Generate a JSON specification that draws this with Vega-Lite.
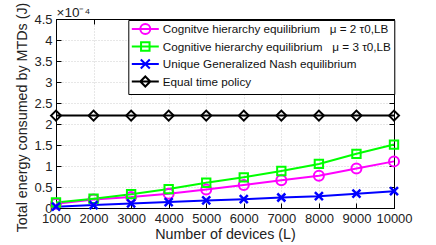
{
  "$schema": "https://vega.github.io/schema/vega-lite/v6.json",
  "width": 338,
  "height": 189,
  "autosize": "none",
  "padding": {"left": 56, "top": 19, "right": 42, "bottom": 37},
  "background": "white",
  "config": {
    "font": "Liberation Sans",
    "view": {"stroke": "black", "strokeWidth": 1},
    "axis": {"domainColor": "black", "tickColor": "black", "labelColor": "#222", "titleColor": "#222", "labelFontSize": 13, "titleFontSize": 14.3, "titleFontWeight": "normal", "gridColor": "#cfcfcf", "gridDash": [1, 2], "gridWidth": 1}
  },
  "data": {"values": [
    {"L": 1000, "series": "A", "e": 0.10}, {"L": 2000, "series": "A", "e": 0.20}, {"L": 3000, "series": "A", "e": 0.26}, {"L": 4000, "series": "A", "e": 0.34}, {"L": 5000, "series": "A", "e": 0.44}, {"L": 6000, "series": "A", "e": 0.55}, {"L": 7000, "series": "A", "e": 0.66}, {"L": 8000, "series": "A", "e": 0.77}, {"L": 9000, "series": "A", "e": 0.94}, {"L": 10000, "series": "A", "e": 1.11},
    {"L": 1000, "series": "B", "e": 0.13}, {"L": 2000, "series": "B", "e": 0.22}, {"L": 3000, "series": "B", "e": 0.33}, {"L": 4000, "series": "B", "e": 0.45}, {"L": 5000, "series": "B", "e": 0.60}, {"L": 6000, "series": "B", "e": 0.73}, {"L": 7000, "series": "B", "e": 0.88}, {"L": 8000, "series": "B", "e": 1.05}, {"L": 9000, "series": "B", "e": 1.29}, {"L": 10000, "series": "B", "e": 1.51},
    {"L": 1000, "series": "C", "e": 0.03}, {"L": 2000, "series": "C", "e": 0.07}, {"L": 3000, "series": "C", "e": 0.11}, {"L": 4000, "series": "C", "e": 0.14}, {"L": 5000, "series": "C", "e": 0.18}, {"L": 6000, "series": "C", "e": 0.21}, {"L": 7000, "series": "C", "e": 0.25}, {"L": 8000, "series": "C", "e": 0.28}, {"L": 9000, "series": "C", "e": 0.34}, {"L": 10000, "series": "C", "e": 0.40},
    {"L": 1000, "series": "D", "e": 2.2}, {"L": 2000, "series": "D", "e": 2.2}, {"L": 3000, "series": "D", "e": 2.2}, {"L": 4000, "series": "D", "e": 2.2}, {"L": 5000, "series": "D", "e": 2.2}, {"L": 6000, "series": "D", "e": 2.2}, {"L": 7000, "series": "D", "e": 2.2}, {"L": 8000, "series": "D", "e": 2.2}, {"L": 9000, "series": "D", "e": 2.2}, {"L": 10000, "series": "D", "e": 2.2}
  ]},
  "layer": [
    {
      "mark": {"type": "line", "strokeWidth": 2},
      "encoding": {
        "x": {"field": "L", "type": "quantitative", "scale": {"domain": [1000, 10000], "nice": false},
              "axis": {"title": "Number of devices (L)", "values": [1000, 2000, 3000, 4000, 5000, 6000, 7000, 8000, 9000, 10000], "format": "d", "tickSize": -5, "labelPadding": 9, "titlePadding": 2, "grid": true, "labelFlush": false}},
        "y": {"field": "e", "type": "quantitative", "scale": {"domain": [0, 4.5], "nice": false},
              "axis": {"title": "Total energy consumed by MTDs (J)", "values": [0, 0.5, 1, 1.5, 2, 2.5, 3, 3.5, 4, 4.5], "format": ".1~f", "tickSize": -5, "labelPadding": 9, "titlePadding": 4, "titleY": 98, "grid": true}},
        "color": {"field": "series", "type": "nominal",
                  "scale": {"domain": ["A", "B", "C", "D"], "range": ["#ff00ff", "#00ff00", "#0000ff", "#000000"]},
                  "legend": {
                    "title": null, "orient": "none", "legendX": 72.3, "legendY": 1,
                    "strokeColor": "black", "fillColor": "white", "padding": 3,
                    "symbolSize": 100, "symbolStrokeWidth": 2, "symbolOffset": 8, "labelOffset": 11.5,
                    "labelFontSize": 11.7, "labelLimit": 400, "labelColor": "#111", "rowPadding": -0.5,
                    "labelExpr": "datum.value === 'A' ? 'Cognitve hierarchy equilibrium\u00a0\u00a0\u00a0μ = 2 τ0,LB' : datum.value === 'B' ? 'Cognitive hierarchy equilibrium\u00a0\u00a0\u00a0μ = 3 τ0,LB' : datum.value === 'C' ? 'Unique Generalized Nash equilibrium' : 'Equal time policy'",
                    "encode": {"symbols": {"update": {
                      "fill": {"value": "transparent"},
                      "shape": {"signal": "datum.value === 'A' ? 'M-2.7,0H2.7M1,0A1,1,0,1,1,-1,0A1,1,0,1,1,1,0' : datum.value === 'B' ? 'M-2.7,0H2.7M-0.85,-0.85H0.85V0.85H-0.85Z' : datum.value === 'C' ? 'M-2.7,0H2.7M-0.9,-0.9L0.9,0.9M-0.9,0.9L0.9,-0.9' : 'M-2.7,0H2.7M-1,0L0,-1L1,0L0,1Z'"}
                    }}}
                  }}
      }
    },
    {
      "transform": [{"filter": "datum.series === 'A'"}],
      "mark": {"type": "point", "filled": false, "strokeWidth": 2, "opacity": 1, "color": "#ff00ff", "shape": "circle", "size": 100},
      "encoding": {
        "x": {"field": "L", "type": "quantitative", "axis": null},
        "y": {"field": "e", "type": "quantitative", "axis": null}
      }
    },
    {
      "transform": [{"filter": "datum.series === 'B'"}],
      "mark": {"type": "point", "filled": false, "strokeWidth": 2, "opacity": 1, "color": "#00ff00", "shape": "square", "size": 70},
      "encoding": {
        "x": {"field": "L", "type": "quantitative", "axis": null},
        "y": {"field": "e", "type": "quantitative", "axis": null}
      }
    },
    {
      "transform": [{"filter": "datum.series === 'C'"}],
      "mark": {"type": "point", "filled": false, "strokeWidth": 2.5, "opacity": 1, "color": "#0000ff", "shape": "M-1,-1L1,1M-1,1L1,-1", "size": 64},
      "encoding": {
        "x": {"field": "L", "type": "quantitative", "axis": null},
        "y": {"field": "e", "type": "quantitative", "axis": null}
      }
    },
    {
      "transform": [{"filter": "datum.series === 'D'"}],
      "mark": {"type": "point", "filled": false, "strokeWidth": 2, "opacity": 1, "color": "#000000", "shape": "diamond", "size": 100},
      "encoding": {
        "x": {"field": "L", "type": "quantitative", "axis": null},
        "y": {"field": "e", "type": "quantitative", "axis": null}
      }
    },
    {
      "mark": {"type": "point", "opacity": 0},
      "encoding": {
        "x": {"field": "L", "type": "quantitative", "axis": {"orient": "top", "values": [1000, 2000, 3000, 4000, 5000, 6000, 7000, 8000, 9000, 10000], "labels": false, "title": "×10⁻⁴", "titleX": 0, "titleY": -3, "titleAlign": "left", "titleBaseline": "alphabetic", "titleFontSize": 13.5, "tickSize": -5, "grid": false}},
        "y": {"field": "e", "type": "quantitative", "axis": {"orient": "right", "values": [0, 0.5, 1, 1.5, 2, 2.5, 3, 3.5, 4, 4.5], "labels": false, "title": null, "tickSize": -5, "grid": false}}
      }
    }
  ],
  "resolve": {"axis": {"x": "independent", "y": "independent"}}
}
